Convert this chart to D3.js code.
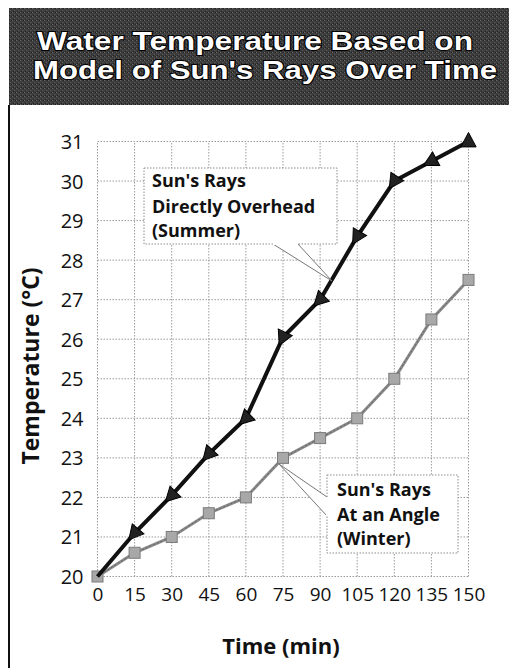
<!DOCTYPE html>
<html><head><meta charset="utf-8">
<script src="https://cdn.jsdelivr.net/npm/d3@7"></script>
<style>
html,body{margin:0;padding:0;background:#fff;}
svg{display:block;font-family:"Open Sans","Noto Sans",sans-serif;}
</style></head>
<body>
<svg id="chart" width="509" height="668"></svg>
<script>
const titleLines = ["Water Temperature Based on", "Model of Sun's Rays Over Time"];
const times = [0, 15, 30, 45, 60, 75, 90, 105, 120, 135, 150];
const summerTemps = [20, 21.1, 22.05, 23.1, 24, 26.05, 27, 28.6, 30, 30.5, 31];
const winterTemps = [20, 20.6, 21, 21.6, 22, 23, 23.5, 24, 25, 26.5, 27.5];
const yTicks = [20, 21, 22, 23, 24, 25, 26, 27, 28, 29, 30, 31];
const xTicks = [0, 15, 30, 45, 60, 75, 90, 105, 120, 135, 150];
const summerLabel = ["Sun's Rays", "Directly Overhead", "(Summer)"];
const winterLabel = ["Sun's Rays", "At an Angle", "(Winter)"];
const xTitle = "Time (min)";
const yTitle = "Temperature (°C)";

const svg = d3.select("#chart");

// banner
const defs = svg.append("defs");
const pat = defs.append("pattern").attr("id","noise").attr("width",4).attr("height",4).attr("patternUnits","userSpaceOnUse");
pat.append("rect").attr("width",4).attr("height",4).attr("fill","#3c3c3c");
pat.append("rect").attr("x",0).attr("y",0).attr("width",1).attr("height",1).attr("fill","#6a6a6a");
pat.append("rect").attr("x",2).attr("y",2).attr("width",1).attr("height",1).attr("fill","#5a5a5a");
pat.append("rect").attr("x",3).attr("y",0).attr("width",1).attr("height",1).attr("fill","#222");
pat.append("rect").attr("x",1).attr("y",3).attr("width",1).attr("height",1).attr("fill","#262626");

svg.append("rect").attr("x",9).attr("y",8).attr("width",500).attr("height",97).attr("fill","url(#noise)");
// panel left border
svg.append("line").attr("x1",9).attr("x2",9).attr("y1",105).attr("y2",668).attr("stroke","#111").attr("stroke-width",2);

const titleWidths = [436, 464];
const titleText = svg.append("text").attr("text-anchor","middle").attr("font-size",25).attr("font-weight","bold")
  .attr("font-family","'Liberation Sans',Arial,sans-serif")
  .attr("fill","#fff").attr("stroke","#000").attr("stroke-width",2).attr("paint-order","stroke");
titleLines.forEach((t,i)=>{
  titleText.append("tspan").attr("x", i===0?255:265).attr("y", i===0?50:79)
    .attr("textLength",titleWidths[i]).attr("lengthAdjust","spacingAndGlyphs").text(t);
});

// scales
const x = d3.scaleLinear().domain([0,150]).range([97.5,468.5]);
const y = d3.scaleLinear().domain([20,31]).range([576.5,141.5]);

// grid
const grid = svg.append("g").attr("stroke","#9a9a9a").attr("stroke-width",1).attr("stroke-dasharray","1.5,1.5");
yTicks.forEach(v=>grid.append("line").attr("x1",x(0)).attr("x2",x(150)).attr("y1",y(v)).attr("y2",y(v)));
xTicks.forEach(v=>grid.append("line").attr("x1",x(v)).attr("x2",x(v)).attr("y1",y(20)).attr("y2",y(31)));

// axes (labels only)
const yAxis = svg.append("g").attr("transform",`translate(${x(0)-14},0)`)
  .call(d3.axisLeft(y).tickValues(yTicks).tickSize(0).tickPadding(0).tickFormat(d3.format("d")));
yAxis.select(".domain").remove();
yAxis.selectAll("text").attr("font-size",20).attr("fill","#111").attr("font-family","'Open Sans',sans-serif").attr("dy","0.35em");

const xAxis = svg.append("g").attr("transform",`translate(0,${y(20)+11})`)
  .call(d3.axisBottom(x).tickValues(xTicks).tickSize(0).tickPadding(0).tickFormat(d3.format("d")));
xAxis.select(".domain").remove();
xAxis.selectAll("text").attr("font-size",19).attr("fill","#111").attr("font-family","'Open Sans',sans-serif").attr("dy","0.71em");

svg.append("text").attr("x",281).attr("y",654).attr("text-anchor","middle")
  .attr("font-size",22).attr("font-weight","bold").attr("fill","#111").text(xTitle);
svg.append("text").attr("transform","translate(39,366) rotate(-90)").attr("text-anchor","middle")
  .attr("font-size",23).attr("font-weight","bold").attr("fill","#111").text(yTitle);

// callouts
function callout(box, tip, base, lines, textX, baselines){
  const g = svg.append("g");
  g.append("rect").attr("x",box[0]).attr("y",box[1]).attr("width",box[2]).attr("height",box[3])
    .attr("fill","#fff").attr("stroke","#8c8c8c").attr("stroke-dasharray","1.5,1.5");
  g.append("path").attr("d",`M${base[0][0]},${base[0][1]}L${tip[0]},${tip[1]}L${base[1][0]},${base[1][1]}`)
    .attr("fill","#fff").attr("stroke","#777").attr("stroke-width",1);
  g.append("line").attr("x1",base[0][0]).attr("y1",base[0][1]).attr("x2",base[1][0]).attr("y2",base[1][1])
    .attr("stroke","#fff").attr("stroke-width",2);
  lines.forEach((t,i)=>g.append("text").attr("x",textX).attr("y",baselines[i])
    .attr("font-size",18).attr("font-weight","bold").attr("fill","#111").text(t));
}

// winter line & markers (drawn before summer)
const line = d3.line().x((d,i)=>x(times[i])).y(d=>y(d));
svg.append("path").datum(winterTemps).attr("d",line).attr("fill","none")
  .attr("stroke","#8a8a8a").attr("stroke-width",3);
svg.append("path").datum(winterTemps).attr("d",line).attr("fill","none")
  .attr("stroke","#5a5a5a").attr("stroke-width",0.8).attr("stroke-dasharray","2,2");
svg.selectAll(".sq").data(winterTemps).enter().append("rect")
  .attr("x",(d,i)=>x(times[i])-5.5).attr("y",d=>y(d)-5.5).attr("width",11).attr("height",11)
  .attr("fill","#a8a8a8").attr("stroke","#7a7a7a").attr("stroke-width",1);

// summer line
svg.append("path").datum(summerTemps).attr("d",line).attr("fill","none")
  .attr("stroke","#111").attr("stroke-width",4);
summerTemps.forEach((d,i)=>{
  const cx = x(times[i]), cy = y(d);
  let ang;
  if(i===0) return;
  if(i===times.length-1){ ang = -90; }
  else {
    const px = x(times[i-1]), py = y(summerTemps[i-1]);
    ang = Math.atan2(py-cy, px-cx)*180/Math.PI;
  }
  const s = 9;
  svg.append("path").attr("d",`M${s},0L${-s*0.6},${-s*0.85}L${-s*0.6},${s*0.85}Z`)
    .attr("transform",`translate(${cx},${cy}) rotate(${ang})`)
    .attr("fill","#222").attr("stroke","#000").attr("stroke-width",1);
});

callout([144,168,193,76],[332,281],[[273,244],[298,244]],summerLabel,152,[187,213,237]);
callout([327,475,131,78],[279,464],[[327,497],[327,516]],winterLabel,337,[496,521,545]);
</script>
</body></html>
